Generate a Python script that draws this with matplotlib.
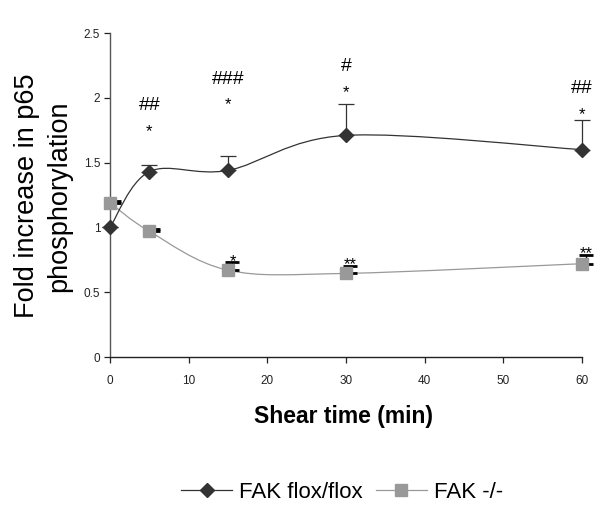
import numpy as np
import matplotlib
matplotlib.use("Agg")
import matplotlib.pyplot as plt
from matplotlib.path import Path
from matplotlib.patches import PathPatch
from matplotlib.lines import Line2D
import matplotlib.transforms as mtransforms

plt.rcParams['font.family'] = ['Liberation Sans', 'DejaVu Sans']

# ---- data ----
time_min = [0, 5, 15, 30, 60]
flox_mean = [1.00, 1.43, 1.44, 1.71, 1.60]
flox_err = [0.00, 0.05, 0.11, 0.24, 0.23]
ko_mean = [1.19, 0.97, 0.67, 0.645, 0.72]
ko_err = [0.01, 0.02, 0.06, 0.055, 0.065]

flox_marks = ["", "##", "###", "#", "##"]
flox_marks_y = [0, 1.94, 2.14, 2.24, 2.07]
flox_stars = ["", "*", "*", "*", "*"]
flox_stars_y = [0, 1.74, 1.95, 2.04, 1.87]
ko_stars = ["", "", "*", "**", "**"]
ko_stars_y = [0, 0, 0.735, 0.715, 0.80]

x_ticks = [0, 10, 20, 30, 40, 50, 60]
y_ticks = [0, 0.5, 1, 1.5, 2, 2.5]
y_tick_labels = ["0", "0.5", "1", "1.5", "2", "2.5"]

DARK = "#333333"
GRAY = "#999999"


def smooth_path(xs, ys):
    """Excel-style smoothed line: Catmull-Rom as cubic Bezier segments."""
    pts = np.column_stack([xs, ys]).astype(float)
    n = len(pts)
    verts = [pts[0]]
    codes = [Path.MOVETO]
    for i in range(n - 1):
        p0 = pts[i - 1] if i > 0 else pts[i]
        p1 = pts[i]
        p2 = pts[i + 1]
        p3 = pts[i + 2] if i + 2 < n else pts[i + 1]
        c1 = p1 + (p2 - p0) / 6.0
        c2 = p2 - (p3 - p1) / 6.0
        verts += [c1, c2, p2]
        codes += [Path.CURVE4] * 3
    return Path(verts, codes)


fig = plt.figure(figsize=(6.03, 5.08), dpi=100)
ax = fig.add_axes([110 / 603, 1 - 357 / 508, (582 - 110) / 603, (357 - 33) / 508])

# smoothed lines
ax.add_patch(PathPatch(smooth_path(time_min, ko_mean), facecolor="none",
                       edgecolor=GRAY, lw=0.9, zorder=2, clip_on=False))
ax.add_patch(PathPatch(smooth_path(time_min, flox_mean), facecolor="none",
                       edgecolor=DARK, lw=0.9, zorder=2, clip_on=False))

# error bars
eb1 = ax.errorbar(time_min, flox_mean, yerr=[np.zeros(len(flox_err)), flox_err],
                  fmt="none", ecolor=DARK, elinewidth=0.9, capsize=5.5,
                  capthick=0.9, zorder=3)
offset = mtransforms.offset_copy(ax.transData, fig=fig, x=3.5, y=0, units="dots")
eb2 = ax.errorbar(time_min, ko_mean, yerr=[np.zeros(len(ko_err)), ko_err],
                  fmt="none", ecolor="black", elinewidth=1.0, capsize=5.3,
                  capthick=2.0, zorder=3, transform=offset)
for eb in (eb1, eb2):
    for art in eb.lines[1]:
        art.set_clip_on(False)
    for art in eb.lines[2]:
        art.set_clip_on(False)

# markers
ax.plot(time_min, ko_mean, ls="none", marker="s", ms=9, mfc=GRAY,
        mec=GRAY, zorder=4, clip_on=False)
ax.plot(time_min, flox_mean, ls="none", marker="D", ms=7, mfc=DARK,
        mec=DARK, zorder=5, clip_on=False)

# annotations
for x, t, y in zip(time_min, flox_marks, flox_marks_y):
    if t:
        ax.text(x, y, t, ha="center", va="center", fontsize=14, color="black",
                clip_on=False)
for x, t, y in zip(time_min, flox_stars, flox_stars_y):
    if t:
        ax.text(x, y, t, ha="center", va="center", fontsize=12, color="black",
                clip_on=False)
for x, t, y in zip(time_min, ko_stars, ko_stars_y):
    if t:
        ax.text(x + 0.6, y, t, ha="center", va="center", fontsize=12,
                color="black", clip_on=False)

ax.set_xlim(0, 60)
ax.set_ylim(0, 2.5)
ax.set_xticks(x_ticks)
ax.set_xticklabels([str(v) for v in x_ticks])
ax.set_yticks(y_ticks)
ax.set_yticklabels(y_tick_labels)
for s in ("top", "right"):
    ax.spines[s].set_visible(False)
ax.spines["left"].set_color("#555555")
ax.spines["bottom"].set_color("#222222")
ax.spines["left"].set_linewidth(1.0)
ax.spines["bottom"].set_linewidth(1.0)
ax.tick_params(axis="both", direction="out", length=4, width=0.9,
               labelsize=8.5, colors="#222222")
ax.tick_params(axis="x", pad=9)
ax.tick_params(axis="y", pad=3)
ax.patch.set_alpha(0)

fig.text(43 / 603, 1 - 196 / 508, "Fold increase in p65\nphosphorylation",
         rotation=90, ha="center", va="center", fontsize=19.5,
         multialignment="center", linespacing=1.3)
fig.text(344 / 603, 1 - 417 / 508, "Shear time (min)", ha="center",
         va="center", fontsize=16.5, fontweight="bold")

handles = [
    Line2D([], [], color=DARK, lw=0.9, marker="D", ms=7, mfc=DARK, mec=DARK),
    Line2D([], [], color=GRAY, lw=0.9, marker="s", ms=9, mfc=GRAY, mec=GRAY),
]
fig.legend(handles, ["FAK flox/flox", "FAK -/-"], loc="center",
           bbox_to_anchor=(342 / 603, 1 - 492 / 508), ncol=2, frameon=False,
           fontsize=16, handlelength=2.3, handletextpad=0.3,
           columnspacing=0.6)

fig.savefig("out.png", dpi=100)
